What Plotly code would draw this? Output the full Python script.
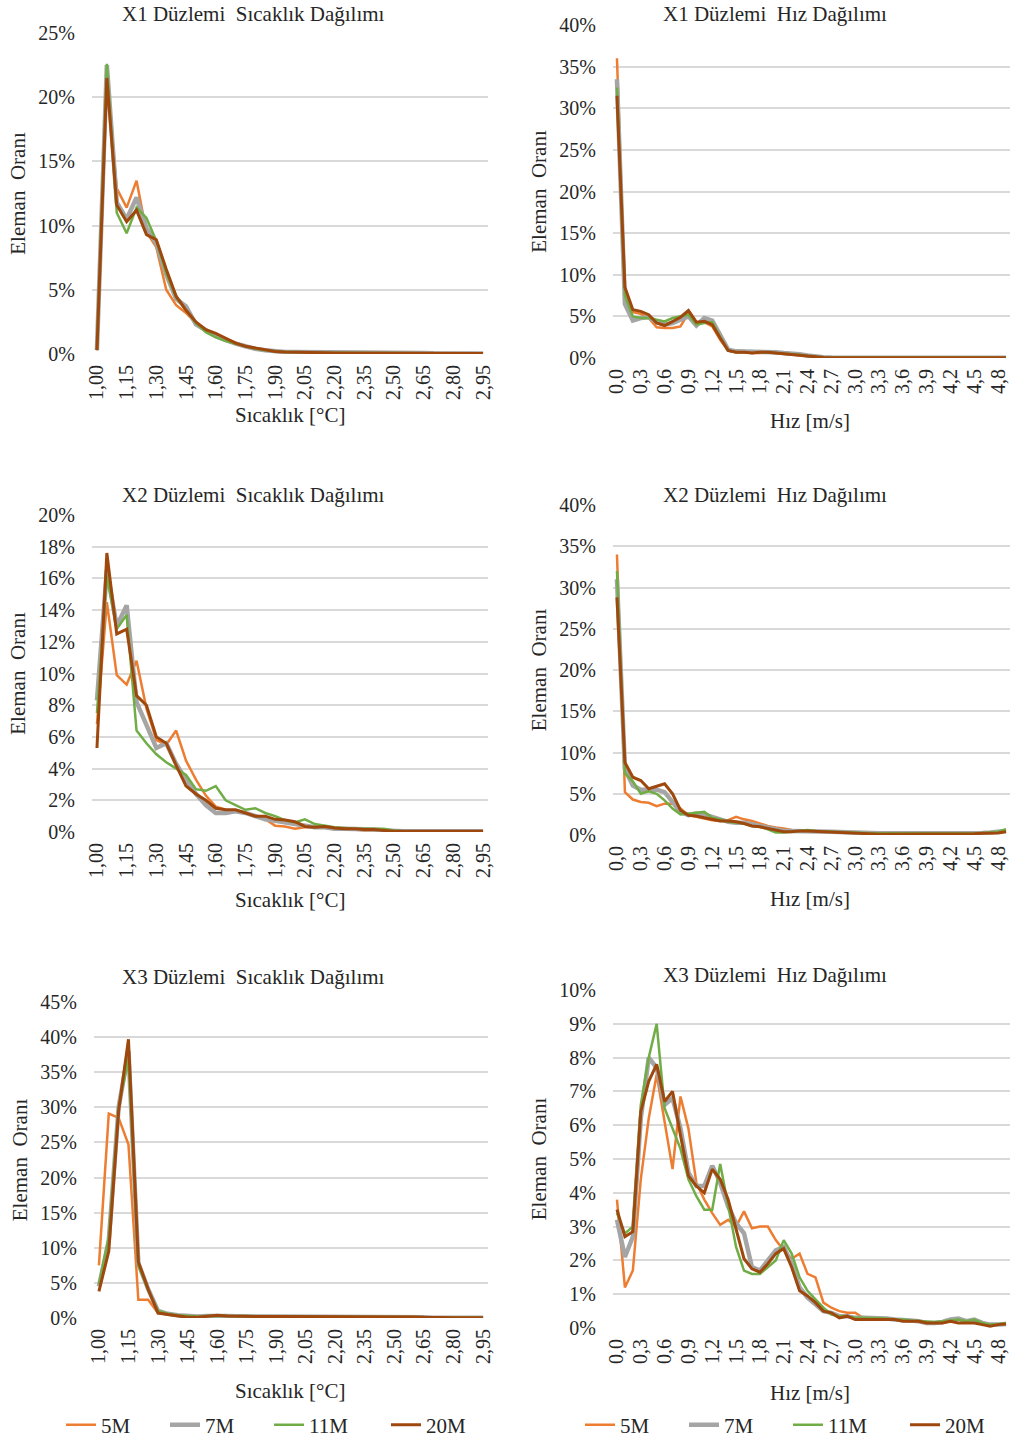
import plotly.graph_objects as go

# ---------------- categories ----------------
temp_cats = ["1,00", "1,05", "1,10", "1,15", "1,20", "1,25", "1,30", "1,35", "1,40", "1,45",
             "1,50", "1,55", "1,60", "1,65", "1,70", "1,75", "1,80", "1,85", "1,90", "1,95",
             "2,00", "2,05", "2,10", "2,15", "2,20", "2,25", "2,30", "2,35", "2,40", "2,45",
             "2,50", "2,55", "2,60", "2,65", "2,70", "2,75", "2,80", "2,85", "2,90", "2,95"]
speed_cats = ["0,0", "0,1", "0,2", "0,3", "0,4", "0,5", "0,6", "0,7", "0,8", "0,9",
              "1,0", "1,1", "1,2", "1,3", "1,4", "1,5", "1,6", "1,7", "1,8", "1,9",
              "2,0", "2,1", "2,2", "2,3", "2,4", "2,5", "2,6", "2,7", "2,8", "2,9",
              "3,0", "3,1", "3,2", "3,3", "3,4", "3,5", "3,6", "3,7", "3,8", "3,9",
              "4,0", "4,1", "4,2", "4,3", "4,4", "4,5", "4,6", "4,7", "4,8", "4,9"]
temp_ticks = temp_cats[::3]
speed_ticks = speed_cats[::3]

series_names = ["5M", "7M", "11M", "20M"]

# ---------------- X1 temperature (%) ----------------
x1_temp_5m = [0.3, 21.5, 12.9, 11.4, 13.5, 9.5, 8.3, 5.0, 3.8, 3.2,
              2.4, 1.9, 1.5, 1.2, 0.9, 0.6, 0.45, 0.3, 0.2, 0.15,
              0.15, 0.15, 0.12, 0.1, 0.08, 0.08, 0.08, 0.06, 0.05, 0.05,
              0.05, 0.05, 0.05, 0.05, 0.04, 0.04, 0.04, 0.03, 0.03, 0.03]
x1_temp_7m = [0.3, 22.5, 11.8, 10.5, 12.2, 9.8, 8.6, 6.2, 4.3, 3.7,
              2.3, 1.8, 1.4, 1.1, 0.8, 0.6, 0.4, 0.3, 0.2, 0.15,
              0.15, 0.15, 0.12, 0.12, 0.1, 0.1, 0.1, 0.08, 0.07, 0.07,
              0.07, 0.08, 0.1, 0.08, 0.05, 0.05, 0.04, 0.04, 0.03, 0.03]
x1_temp_11m = [0.3, 22.6, 11.0, 9.4, 11.4, 10.6, 8.8, 6.3, 4.4, 3.4,
               2.4, 1.7, 1.3, 1.0, 0.8, 0.55, 0.4, 0.3, 0.2, 0.15,
               0.15, 0.12, 0.1, 0.1, 0.1, 0.1, 0.08, 0.07, 0.06, 0.06,
               0.06, 0.06, 0.06, 0.05, 0.05, 0.04, 0.04, 0.03, 0.03, 0.03]
x1_temp_20m = [0.3, 21.5, 11.6, 10.3, 11.2, 9.3, 8.9, 6.6, 4.5, 3.4,
               2.5, 1.9, 1.6, 1.25, 0.85, 0.6, 0.45, 0.3, 0.2, 0.15,
               0.15, 0.15, 0.12, 0.1, 0.08, 0.08, 0.08, 0.06, 0.05, 0.05,
               0.05, 0.05, 0.05, 0.05, 0.04, 0.04, 0.04, 0.03, 0.03, 0.03]

# ---------------- X2 temperature (%) ----------------
x2_temp_5m = [6.8, 14.5, 9.9, 9.3, 10.8, 7.8, 5.8, 5.5, 6.4, 4.5,
              3.3, 2.3, 1.6, 1.4, 1.3, 1.2, 1.0, 0.8, 0.4, 0.35,
              0.2, 0.3, 0.3, 0.3, 0.2, 0.15, 0.15, 0.1, 0.1, 0.08,
              0.05, 0.05, 0.05, 0.05, 0.05, 0.05, 0.05, 0.05, 0.05, 0.05]
x2_temp_7m = [8.3, 16.5, 13.0, 14.3, 8.2, 6.8, 5.3, 5.6, 4.3, 3.3,
              2.4, 1.7, 1.2, 1.2, 1.3, 1.2, 1.0, 0.8, 0.7, 0.6,
              0.5, 0.4, 0.3, 0.3, 0.2, 0.2, 0.2, 0.15, 0.15, 0.1,
              0.05, 0.05, 0.05, 0.05, 0.05, 0.05, 0.05, 0.05, 0.05, 0.05]
x2_temp_11m = [7.5, 16.2, 12.8, 13.7, 6.4, 5.6, 4.9, 4.4, 4.0, 3.6,
               2.7, 2.6, 2.9, 2.0, 1.7, 1.4, 1.5, 1.2, 1.0, 0.75,
               0.6, 0.8, 0.5, 0.4, 0.3, 0.25, 0.2, 0.2, 0.2, 0.2,
               0.1, 0.05, 0.05, 0.05, 0.05, 0.05, 0.05, 0.05, 0.05, 0.05]
x2_temp_20m = [5.3, 17.6, 12.5, 12.8, 8.6, 8.0, 6.0, 5.6, 4.2, 2.9,
               2.4, 2.0, 1.5, 1.4, 1.4, 1.2, 1.0, 1.0, 0.8, 0.75,
               0.65, 0.35, 0.3, 0.35, 0.25, 0.2, 0.2, 0.15, 0.15, 0.1,
               0.05, 0.05, 0.05, 0.05, 0.05, 0.05, 0.05, 0.05, 0.05, 0.05]

# ---------------- X3 temperature (%) ----------------
x3_temp_5m = [7.5, 29.1, 28.5, 24.7, 2.6, 2.6, 0.7, 0.5, 0.3, 0.15,
              0.15, 0.25, 0.3, 0.25, 0.2, 0.25, 0.2, 0.15, 0.15, 0.15,
              0.15, 0.15, 0.15, 0.15, 0.15, 0.15, 0.15, 0.12, 0.12, 0.15,
              0.2, 0.15, 0.12, 0.08, 0.05, 0.05, 0.05, 0.05, 0.05, 0.05]
x3_temp_7m = [4.5, 11.0, 30.0, 38.0, 7.8, 4.1, 1.0, 0.6, 0.4, 0.25,
              0.2, 0.3, 0.35, 0.3, 0.25, 0.3, 0.2, 0.2, 0.2, 0.2,
              0.2, 0.2, 0.2, 0.2, 0.2, 0.2, 0.2, 0.15, 0.15, 0.2,
              0.25, 0.2, 0.15, 0.1, 0.05, 0.05, 0.05, 0.05, 0.05, 0.05]
x3_temp_11m = [4.8, 11.5, 30.0, 37.0, 7.5, 4.0, 1.0, 0.6, 0.4, 0.25,
               0.2, 0.3, 0.35, 0.3, 0.25, 0.3, 0.2, 0.2, 0.2, 0.2,
               0.2, 0.2, 0.2, 0.2, 0.2, 0.2, 0.2, 0.15, 0.15, 0.2,
               0.25, 0.2, 0.15, 0.1, 0.05, 0.05, 0.05, 0.05, 0.05, 0.05]
x3_temp_20m = [3.8, 9.5, 29.5, 39.7, 8.0, 4.1, 0.7, 0.5, 0.3, 0.1,
               0.1, 0.3, 0.4, 0.3, 0.25, 0.3, 0.2, 0.2, 0.2, 0.2,
               0.2, 0.2, 0.2, 0.2, 0.2, 0.2, 0.2, 0.15, 0.15, 0.2,
               0.25, 0.2, 0.15, 0.1, 0.05, 0.05, 0.05, 0.05, 0.05, 0.05]

# ---------------- X1 speed (%) ----------------
x1_speed_5m = [36.0, 7.5, 5.5, 5.3, 4.8, 3.7, 3.6, 3.6, 3.8, 5.4,
               4.2, 4.3, 3.8, 2.2, 0.9, 0.7, 0.7, 0.6, 0.6, 0.7,
               0.6, 0.5, 0.45, 0.35, 0.25, 0.1, 0.05, 0.05, 0.03, 0.02,
               0.02, 0.02, 0.02, 0.02, 0.02, 0.02, 0.02, 0.02, 0.02, 0.02,
               0.02, 0.02, 0.02, 0.02, 0.02, 0.02, 0.02, 0.02, 0.02, 0.02]
x1_speed_7m = [33.5, 6.5, 4.5, 4.8, 4.9, 4.3, 4.0, 4.2, 4.6, 5.0,
               3.9, 4.8, 4.5, 2.7, 1.0, 0.8, 0.8, 0.7, 0.8, 0.8,
               0.7, 0.6, 0.55, 0.45, 0.3, 0.15, 0.1, 0.05, 0.03, 0.02,
               0.02, 0.02, 0.02, 0.02, 0.02, 0.02, 0.02, 0.02, 0.02, 0.02,
               0.02, 0.02, 0.02, 0.02, 0.02, 0.02, 0.02, 0.02, 0.02, 0.02]
x1_speed_11m = [32.5, 7.5, 5.0, 4.8, 4.8, 4.6, 4.4, 4.8, 5.0, 5.2,
                4.0, 4.2, 4.3, 2.5, 0.9, 0.7, 0.7, 0.6, 0.7, 0.7,
                0.6, 0.55, 0.5, 0.4, 0.25, 0.12, 0.08, 0.05, 0.03, 0.02,
                0.02, 0.02, 0.02, 0.02, 0.02, 0.02, 0.02, 0.02, 0.02, 0.02,
                0.02, 0.02, 0.02, 0.02, 0.02, 0.02, 0.02, 0.02, 0.02, 0.02]
x1_speed_20m = [31.5, 8.5, 5.8, 5.6, 5.2, 4.2, 3.9, 4.4, 4.9, 5.7,
                4.3, 4.4, 4.0, 2.4, 0.9, 0.7, 0.7, 0.6, 0.7, 0.7,
                0.6, 0.5, 0.45, 0.35, 0.2, 0.1, 0.05, 0.03, 0.02, 0.02,
                0.02, 0.02, 0.02, 0.02, 0.02, 0.02, 0.02, 0.02, 0.02, 0.02,
                0.02, 0.02, 0.02, 0.02, 0.02, 0.02, 0.02, 0.02, 0.02, 0.02]

# ---------------- X2 speed (%) ----------------
x2_speed_5m = [34.0, 5.2, 4.3, 4.0, 3.9, 3.5, 3.8, 3.8, 3.2, 2.4,
               2.2, 2.0, 1.8, 1.7, 1.8, 2.2, 1.9, 1.7, 1.4, 1.1,
               0.9, 0.8, 0.6, 0.5, 0.5, 0.5, 0.45, 0.4, 0.35, 0.3,
               0.3, 0.25, 0.2, 0.2, 0.2, 0.2, 0.2, 0.2, 0.2, 0.15,
               0.15, 0.15, 0.2, 0.2, 0.2, 0.2, 0.25, 0.3, 0.4, 0.6]
x2_speed_7m = [31.0, 8.0, 6.0, 5.5, 5.5, 5.5, 5.2, 4.0, 2.8, 2.4,
               2.6, 2.5, 2.2, 1.9, 1.6, 1.5, 1.5, 1.3, 1.1, 0.9,
               0.6, 0.5, 0.5, 0.5, 0.5, 0.5, 0.45, 0.4, 0.35, 0.3,
               0.3, 0.25, 0.2, 0.2, 0.2, 0.2, 0.2, 0.2, 0.2, 0.15,
               0.15, 0.15, 0.2, 0.2, 0.2, 0.25, 0.25, 0.3, 0.35, 0.5]
x2_speed_11m = [32.0, 7.5, 6.5, 5.0, 5.3, 5.0, 4.2, 3.2, 2.5, 2.6,
                2.7, 2.8, 2.1, 1.9, 1.6, 1.5, 1.4, 1.1, 1.0, 0.7,
                0.3, 0.3, 0.4, 0.5, 0.6, 0.5, 0.45, 0.4, 0.35, 0.3,
                0.3, 0.25, 0.2, 0.2, 0.2, 0.2, 0.2, 0.2, 0.2, 0.15,
                0.15, 0.15, 0.2, 0.2, 0.2, 0.2, 0.25, 0.3, 0.4, 0.7]
x2_speed_20m = [28.8, 8.8, 7.0, 6.6, 5.6, 5.9, 6.2, 5.0, 3.0, 2.4,
                2.3, 2.1, 1.9, 1.7, 1.7, 1.6, 1.4, 1.1, 1.0, 0.8,
                0.6, 0.4, 0.4, 0.5, 0.5, 0.45, 0.4, 0.35, 0.3, 0.25,
                0.2, 0.15, 0.1, 0.1, 0.1, 0.1, 0.1, 0.1, 0.1, 0.1,
                0.1, 0.1, 0.1, 0.1, 0.15, 0.15, 0.2, 0.2, 0.25, 0.4]

# ---------------- X3 speed (%) ----------------
x3_speed_5m = [3.8, 1.2, 1.7, 4.4, 6.2, 7.5, 6.1, 4.7, 6.85, 5.9,
               4.3, 3.8, 3.4, 3.05, 3.2, 3.0, 3.45, 2.95, 3.0, 3.0,
               2.6, 2.3, 2.05, 2.2, 1.6, 1.5, 0.75, 0.6, 0.5, 0.45,
               0.45, 0.3, 0.3, 0.3, 0.28, 0.25, 0.25, 0.22, 0.2, 0.15,
               0.15, 0.15, 0.25, 0.25, 0.2, 0.2, 0.15, 0.1, 0.1, 0.1]
x3_speed_7m = [3.2, 2.1, 2.7, 6.2, 8.0, 7.7, 6.6, 6.8, 5.9, 4.6,
               4.2, 4.2, 4.8, 4.3, 3.6, 3.1, 2.8, 1.8, 1.7, 2.0,
               2.3, 2.4, 1.9, 1.2, 0.9, 0.7, 0.5, 0.45, 0.35, 0.35,
               0.3, 0.3, 0.3, 0.3, 0.28, 0.25, 0.25, 0.22, 0.2, 0.15,
               0.15, 0.18, 0.25, 0.28, 0.2, 0.25, 0.15, 0.1, 0.1, 0.12]
x3_speed_11m = [3.4, 2.8, 3.0, 6.6, 8.0, 9.0, 6.5, 5.9, 5.3, 4.4,
                3.9, 3.5, 3.5, 4.85, 3.6, 2.4, 1.7, 1.6, 1.6, 1.8,
                2.0, 2.6, 2.2, 1.5, 1.1, 0.85, 0.6, 0.4, 0.35, 0.35,
                0.3, 0.3, 0.3, 0.3, 0.28, 0.25, 0.25, 0.22, 0.2, 0.18,
                0.18, 0.2, 0.22, 0.25, 0.2, 0.25, 0.15, 0.1, 0.12, 0.15]
x3_speed_20m = [3.5, 2.7, 2.85, 6.4, 7.3, 7.8, 6.7, 7.0, 5.7, 4.5,
                4.2, 4.0, 4.7, 4.4, 3.8, 2.9, 2.05, 1.75, 1.65, 1.9,
                2.2, 2.35, 1.8, 1.1, 0.95, 0.75, 0.5, 0.45, 0.3, 0.35,
                0.25, 0.25, 0.25, 0.25, 0.25, 0.25, 0.2, 0.2, 0.2, 0.15,
                0.15, 0.15, 0.2, 0.15, 0.15, 0.15, 0.1, 0.05, 0.1, 0.12]

# ---------------- styling ----------------
W, H = 1010, 1443
FONT = "Liberation Serif, Times New Roman, serif"
TXT = "#262626"
GRID = "#D9D9D9"
colors = {"5M": "#ED7D31", "7M": "#A5A5A5", "11M": "#70AD47", "20M": "#9E480E"}
widths = {"5M": 2.5, "7M": 4.5, "11M": 2.5, "20M": 3.0}
legend_widths = {"5M": 59, "7M": 59, "11M": 72, "20M": 38}

NB = "\u00a0"
panels = [
    dict(title="X1 Düzlemi" + NB + " Sıcaklık Dağılımı", cats=temp_cats, ticks=temp_ticks,
         data=[x1_temp_5m, x1_temp_7m, x1_temp_11m, x1_temp_20m], ymax=25, dtick=5,
         xtitle="Sıcaklık [°C]", px=(92, 488), xend=39.5, py=(33, 354), tpos=(253, 14),
         xtpos=(290, 415), legend=None),
    dict(title="X1 Düzlemi" + NB + " Hız Dağılımı", cats=speed_cats, ticks=speed_ticks,
         data=[x1_speed_5m, x1_speed_7m, x1_speed_11m, x1_speed_20m], ymax=40, dtick=5,
         xtitle="Hız [m/s]", px=(613, 1010), xend=49.5, py=(25, 358), tpos=(775, 14),
         xtpos=(810, 421), legend=None),
    dict(title="X2 Düzlemi" + NB + " Sıcaklık Dağılımı", cats=temp_cats, ticks=temp_ticks,
         data=[x2_temp_5m, x2_temp_7m, x2_temp_11m, x2_temp_20m], ymax=20, dtick=2,
         xtitle="Sıcaklık [°C]", px=(92, 488), xend=39.5, py=(515, 832), tpos=(253, 495),
         xtpos=(290, 900), legend=None),
    dict(title="X2 Düzlemi" + NB + " Hız Dağılımı", cats=speed_cats, ticks=speed_ticks,
         data=[x2_speed_5m, x2_speed_7m, x2_speed_11m, x2_speed_20m], ymax=40, dtick=5,
         xtitle="Hız [m/s]", px=(613, 1010), xend=49.5, py=(505, 835), tpos=(775, 495),
         xtpos=(810, 899), legend=None),
    dict(title="X3 Düzlemi" + NB + " Sıcaklık Dağılımı", cats=temp_cats, ticks=temp_ticks,
         data=[x3_temp_5m, x3_temp_7m, x3_temp_11m, x3_temp_20m], ymax=45, dtick=5,
         xtitle="Sıcaklık [°C]", px=(94, 488), xend=39.5, py=(1002, 1318), tpos=(253, 977),
         xtpos=(290, 1391), legend="legend"),
    dict(title="X3 Düzlemi" + NB + " Hız Dağılımı", cats=speed_cats, ticks=speed_ticks,
         data=[x3_speed_5m, x3_speed_7m, x3_speed_11m, x3_speed_20m], ymax=10, dtick=1,
         xtitle="Hız [m/s]", px=(613, 1010), xend=49.5, py=(990, 1328), tpos=(775, 975),
         xtpos=(810, 1393), legend="legend2"),
]

fig = go.Figure()
annotations = []
layout_axes = {}

for i, p in enumerate(panels, start=1):
    xa = "x" if i == 1 else f"x{i}"
    ya = "y" if i == 1 else f"y{i}"
    for name, vals in zip(series_names, p["data"]):
        fig.add_trace(go.Scatter(
            x=p["cats"], y=vals, mode="lines", name=name,
            line=dict(color=colors[name], width=widths[name]),
            xaxis=xa, yaxis=ya,
            showlegend=p["legend"] is not None,
            legend=p["legend"] if p["legend"] else "legend",
            legendwidth=legend_widths[name],
        ))
    layout_axes["xaxis" if i == 1 else f"xaxis{i}"] = dict(
        domain=[p["px"][0] / W, p["px"][1] / W], anchor=ya,
        type="category", categoryorder="array", categoryarray=p["cats"],
        range=[-0.5, p["xend"]], tickmode="array", tickvals=p["ticks"], ticktext=p["ticks"],
        tickangle=-90, showgrid=False, showline=False, zeroline=False, ticks="",
        ticklabelstandoff=6,
        tickfont=dict(family=FONT, size=20, color=TXT),
        automargin=False, fixedrange=True,
    )
    layout_axes["yaxis" if i == 1 else f"yaxis{i}"] = dict(
        domain=[1 - p["py"][1] / H, 1 - p["py"][0] / H], anchor=xa,
        range=[0, p["ymax"]], dtick=p["dtick"], tick0=0, ticksuffix="%",
        showgrid=True, gridcolor=GRID, gridwidth=1.5, zeroline=False, showline=False,
        ticks="", ticklabelstandoff=16,
        tickfont=dict(family=FONT, size=20, color=TXT),
        title=dict(text="Eleman" + NB + " Oranı", font=dict(family=FONT, size=21, color=TXT), standoff=6),
        automargin=False, fixedrange=True,
    )
    # chart title
    annotations.append(dict(
        text=p["title"], x=p["tpos"][0] / W, y=1 - p["tpos"][1] / H,
        xref="paper", yref="paper", xanchor="center", yanchor="middle",
        showarrow=False, font=dict(family=FONT, size=21, color=TXT),
    ))
    # x-axis title
    annotations.append(dict(
        text=p["xtitle"], x=p["xtpos"][0] / W, y=1 - p["xtpos"][1] / H,
        xref="paper", yref="paper", xanchor="center", yanchor="middle",
        showarrow=False, font=dict(family=FONT, size=21, color=TXT),
    ))

legend_common = dict(
    orientation="h", yanchor="middle", xanchor="left",
    font=dict(family=FONT, size=21, color=TXT), bgcolor="rgba(0,0,0,0)",
    entrywidthmode="pixels", itemclick=False, itemdoubleclick=False,
    tracegroupgap=0,
)

fig.update_layout(
    width=W, height=H, margin=dict(l=0, r=0, t=0, b=0, autoexpand=False),
    paper_bgcolor="white", plot_bgcolor="white",
    font=dict(family=FONT, color=TXT),
    annotations=annotations,
    legend=dict(x=61 / W, y=1 - 1425 / H, **legend_common),
    legend2=dict(x=580 / W, y=1 - 1425 / H, **legend_common),
    **layout_axes,
)

fig.write_html("out.html")
